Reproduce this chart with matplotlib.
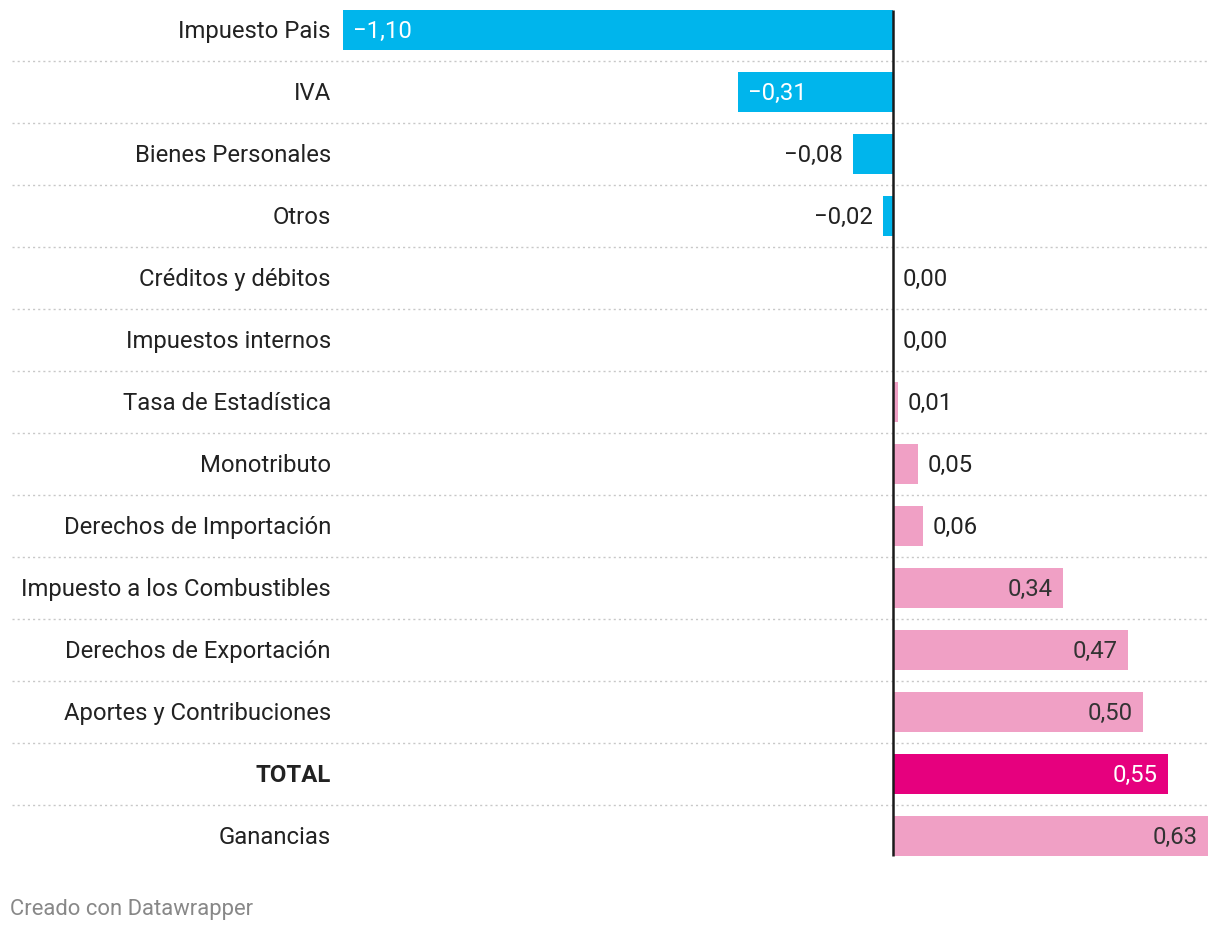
import matplotlib
matplotlib.use("Agg")
import matplotlib.pyplot as plt

plt.rcParams['font.family'] = ['Roboto', 'DejaVu Sans']

categorias = ["Impuesto Pais", "IVA", "Bienes Personales", "Otros",
              "Créditos y débitos", "Impuestos internos", "Tasa de Estadística",
              "Monotributo", "Derechos de Importación", "Impuesto a los Combustibles",
              "Derechos de Exportación", "Aportes y Contribuciones", "TOTAL", "Ganancias"]
valores = [-1.10, -0.31, -0.08, -0.02, 0.00, 0.00, 0.01,
           0.05, 0.06, 0.34, 0.47, 0.50, 0.55, 0.63]

AZUL = "#00b5ec"
ROSA = "#f0a0c5"
TOTAL = "#e6007e"


def fmt(v):
    s = f"{abs(v):.2f}".replace(".", ",")
    return ("\u2212" + s) if v < 0 else s


def main():
    W, H = 1220, 932
    fig = plt.figure(figsize=(W / 100, H / 100), dpi=100)
    # ejes: x de 342 a 1208 px, filas de 62 px
    left, right = 342, 1208
    top, bottom = -1, 867
    ax = fig.add_axes([left / W, (H - bottom) / H, (right - left) / W, (bottom - top) / H])
    ax.set_xlim(-1.102, 0.63)
    ax.set_ylim(len(categorias) - 0.5, -0.5)
    ax.axis("off")

    px = (0.63 + 1.102) / (right - left)  # unidades por pixel
    alto = 40 / 62
    dy = 1.5 / 62  # bajar un poco el texto
    fs = 17.2

    for i, (c, v) in enumerate(zip(categorias, valores)):
        if c == "TOTAL":
            color = TOTAL
        elif v < 0:
            color = AZUL
        else:
            color = ROSA
        ax.barh(i, v, height=alto, color=color, linewidth=0)

        # etiqueta de categoría
        ax.text(-1.102 - 11 * px, i + dy, c, ha="right", va="center", fontsize=fs,
                color="#222222", fontweight="bold" if c == "TOTAL" else "normal")

        # etiqueta de valor
        dentro = abs(v) >= 0.15
        if dentro:
            tc = "white" if color in (AZUL, TOTAL) else "#333333"
            if v < 0:
                ax.text(v + 10 * px, i + dy, fmt(v), ha="left", va="center", fontsize=fs, color=tc)
            else:
                ax.text(v - 10 * px, i + dy, fmt(v), ha="right", va="center", fontsize=fs, color=tc)
        else:
            if v < 0:
                ax.text(v - 10 * px, i + dy, fmt(v), ha="right", va="center", fontsize=fs, color="#222222")
            else:
                ax.text(v + 10 * px, i + dy, fmt(v), ha="left", va="center", fontsize=fs, color="#222222")

    # separadores punteados
    x0 = (12 - left) / (right - left)
    for i in range(len(categorias) - 1):
        ax.plot([x0, 1.0], [i + 0.5, i + 0.5], transform=ax.get_yaxis_transform(),
                color="#c8c8c8", linewidth=1.0, linestyle=(0, (1.5, 2.2)), clip_on=False, zorder=0)

    # línea del cero
    ax.plot([0, 0], [-0.5 + 11 / 62, len(categorias) - 0.5 - 11 / 62], color="#1a1a1a",
            linewidth=1.8, zorder=5, solid_capstyle="butt")

    fig.text(10 / W, 1 - 909 / H, "Creado con Datawrapper", ha="left", va="center",
             fontsize=15.8, color="#888888")

    fig.savefig("out.png", dpi=100)


if __name__ == "__main__":
    main()
